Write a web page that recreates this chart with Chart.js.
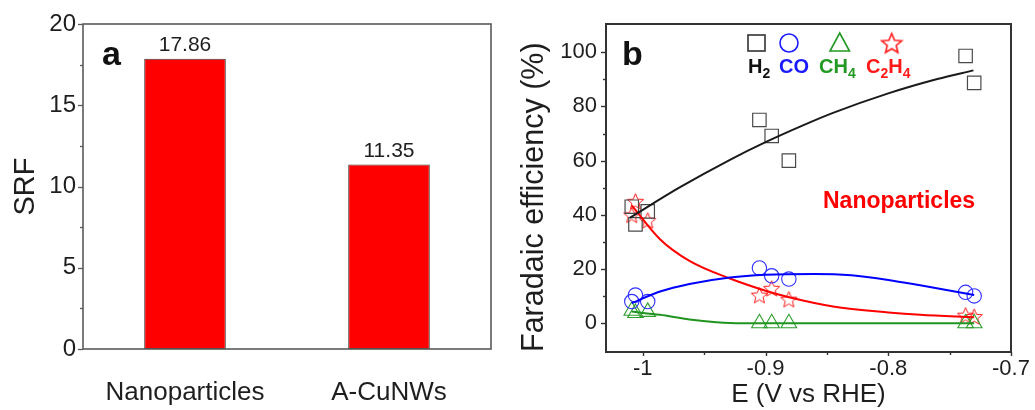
<!DOCTYPE html>
<html>
<head>
<meta charset="utf-8">
<script src="https://cdn.jsdelivr.net/npm/chart.js@4.4.1/dist/chart.umd.min.js"></script>
<style>
  html, body { margin: 0; padding: 0; background: #fff; }
  #wrap { position: relative; width: 1035px; height: 410px; overflow: hidden; }
  #srfChart { position: absolute; left: 0; top: 0; width: 500px; height: 410px; }
  #feChart { position: absolute; left: 500px; top: 0; width: 535px; height: 410px; }
</style>
</head>
<body>
<div id="wrap">
  <canvas id="srfChart" width="500" height="410"></canvas>
  <canvas id="feChart" width="535" height="410"></canvas>
</div>
<script>
/* ── panel a: SRF bars ── */
const SAMPLES = ['Nanoparticles', 'A-CuNWs'];
const SRF_VALUES = [17.86, 11.35];
const SRF_TICKS = [0, 5, 10, 15, 20];
const SRF_MINOR = [2.5, 7.5, 12.5, 17.5];

/* ── panel b: faradaic efficiency vs potential ── */
const POTENTIALS = [-1.009, -1.006, -0.996, -0.905, -0.895, -0.881, -0.737, -0.730];
const FE_H2   = [43, 36.5, 41.3, 75, 69.1, 60, 98.6, 88.7];
const FE_CO   = [8, 10.4, 8, 20.4, 17.5, 16.3, 11.4, 10.1];
const FE_CH4  = [4.6, 3.8, 4.2, 0, 0, 0, 0, 0];
const FE_C2H4 = [40, 45, 38, 10.4, 12.9, 8.9, 3, 2.5];

// fitted guide curves
const H2_FIT_E   = [-1.0106, -0.97, -0.929, -0.9, -0.87, -0.845, -0.8, -0.76, -0.7306];
const H2_FIT     = [38.9, 50.1, 60.3, 66.8, 72.9, 77.6, 84.8, 90.1, 93.3];
const CO_FIT_E   = [-1.009, -0.986, -0.962, -0.929, -0.9, -0.86, -0.83, -0.8, -0.774, -0.73];
const CO_FIT     = [7.4, 11.7, 14.5, 16.9, 17.9, 18.2, 17.7, 16, 14, 10.4];
const CH4_FIT_E  = [-1.009, -0.986, -0.962, -0.94, -0.92, -0.85, -0.73];
const CH4_FIT    = [4.3, 3.1, 1.4, 0.4, 0, 0, 0];
const C2H4_FIT_E = [-1.009, -0.986, -0.962, -0.929, -0.9, -0.88, -0.845, -0.8, -0.774, -0.73];
const C2H4_FIT   = [43.5, 31, 23, 16.5, 12, 9.5, 6.2, 4, 3.1, 2.2];

const E_TICKS = [-1, -0.9, -0.8, -0.7];
const E_MINOR = [-0.95, -0.85, -0.75];
const FE_TICKS = [0, 20, 40, 60, 80, 100];
const FE_MINOR = [10, 30, 50, 70, 90];

const FONT = "'Liberation Sans', Arial, sans-serif";
const INK = '#1e1e1e';

const toXY = (xs, ys) => xs.map((x, i) => ({ x, y: ys[i] }));

function makeStar(outer, color, lw) {
  const size = Math.ceil(outer * 2 + lw * 2 + 2);
  const c = document.createElement('canvas');
  c.width = c.height = size;
  const g = c.getContext('2d');
  const cx = size / 2, cy = size / 2 + outer * 0.1;
  const inner = outer * 0.45;
  g.beginPath();
  for (let i = 0; i < 10; i++) {
    const r = i % 2 ? inner : outer;
    const a = -Math.PI / 2 + i * Math.PI / 5;
    g.lineTo(cx + r * Math.cos(a), cy + r * Math.sin(a));
  }
  g.closePath();
  g.strokeStyle = color;
  g.lineWidth = lw;
  g.stroke();
  return c;
}

// box around the plot + outward major/minor ticks
const frameTicks = {
  id: 'frameTicks',
  afterDraw(chart, args, o) {
    const { ctx, chartArea: a, scales } = chart;
    ctx.save();
    ctx.strokeStyle = o.color;
    ctx.lineWidth = o.width;
    ctx.strokeRect(a.left, a.top, a.right - a.left, a.bottom - a.top);
    ctx.lineWidth = o.tickWidth;
    const tickY = (vals, len) => vals.forEach(v => {
      const p = Math.round(scales.y.getPixelForValue(v)) + 0.5;
      ctx.beginPath(); ctx.moveTo(a.left - len, p); ctx.lineTo(a.left, p); ctx.stroke();
    });
    const tickX = (vals, len) => vals.forEach(v => {
      const p = Math.round(scales.x.getPixelForValue(v)) + 0.5;
      ctx.beginPath(); ctx.moveTo(p, a.bottom); ctx.lineTo(p, a.bottom + len); ctx.stroke();
    });
    tickY(o.yMajor || [], 5);
    tickY(o.yMinor || [], 3);
    tickX(o.xMajor || [], 4);
    tickX(o.xMinor || [], 3);
    ctx.restore();
  }
};

const panelText = {
  id: 'panelText',
  afterDraw(chart, args, o) {
    const ctx = chart.ctx;
    (o.items || []).forEach(t => {
      ctx.save();
      ctx.font = t.font;
      ctx.fillStyle = t.color;
      ctx.textAlign = 'left';
      ctx.textBaseline = 'alphabetic';
      ctx.fillText(t.text, t.x, t.y);
      ctx.restore();
    });
  }
};

const barValues = {
  id: 'barValues',
  afterDatasetsDraw(chart) {
    const ctx = chart.ctx;
    const meta = chart.getDatasetMeta(0);
    ctx.save();
    ctx.font = `21px ${FONT}`;
    ctx.fillStyle = INK;
    ctx.textAlign = 'center';
    ctx.textBaseline = 'alphabetic';
    meta.data.forEach((bar, i) => {
      ctx.fillText(SRF_VALUES[i].toFixed(2), bar.x, bar.y - 7.5);
    });
    ctx.restore();
  }
};

// ── LEFT: SRF bar chart ──
new Chart(document.getElementById('srfChart'), {
  type: 'bar',
  data: {
    labels: SAMPLES,
    datasets: [{
      data: SRF_VALUES,
      backgroundColor: '#ff0000',
      borderColor: '#3a3a3a',
      borderWidth: 1,
      borderSkipped: false,
      barPercentage: 0.4,
      categoryPercentage: 1
    }]
  },
  options: {
    responsive: false,
    animation: false,
    layout: { padding: { top: 24, right: 9, left: 0, bottom: 0 } },
    plugins: {
      legend: { display: false },
      tooltip: { enabled: false },
      frameTicks: { color: '#5a5a5a', width: 1.6, tickWidth: 1.3, yMajor: SRF_TICKS, yMinor: SRF_MINOR },
      panelText: { items: [{ text: 'a', x: 102, y: 65, font: `bold 34px ${FONT}`, color: '#111' }] }
    },
    scales: {
      x: {
        grid: { display: false, drawTicks: false },
        border: { display: false },
        ticks: { color: INK, font: { size: 26, family: FONT }, padding: 28 },
        afterFit: s => { s.height = 61; }
      },
      y: {
        min: 0, max: 20,
        grid: { display: false, drawTicks: false },
        border: { display: false },
        afterBuildTicks: s => { s.ticks = SRF_TICKS.map(v => ({ value: v })); },
        ticks: { color: INK, font: { size: 24, family: FONT }, padding: 7, callback: v => String(v) },
        title: { display: true, text: 'SRF', color: INK, font: { size: 29, family: FONT }, padding: { top: 9, bottom: 0 } },
        afterFit: s => { s.width = 83; }
      }
    }
  },
  plugins: [frameTicks, barValues, panelText]
});

// ── RIGHT: faradaic efficiency ──
const C_H2 = '#4a4a4a', C_CO = '#2f2fff', C_CH4 = '#2e9e2e', C_C2H4 = '#ff1a1a';
const starPoint = makeStar(8.5, C_C2H4, 1);
const starLegend = makeStar(10.5, C_C2H4, 1.6);

const feLegend = {
  id: 'feLegend',
  afterDraw(chart, args, o) {
    const ctx = chart.ctx;
    ctx.save();
    // symbols
    ctx.lineWidth = 1.6;
    ctx.strokeStyle = '#333';
    ctx.strokeRect(248, 35, 17, 16);
    ctx.strokeStyle = '#1a1aff';
    ctx.beginPath(); ctx.arc(289, 43, 9, 0, Math.PI * 2); ctx.stroke();
    ctx.strokeStyle = '#229922';
    ctx.beginPath(); ctx.moveTo(339.7, 33); ctx.lineTo(349.5, 51); ctx.lineTo(330, 51); ctx.closePath(); ctx.stroke();
    ctx.drawImage(starLegend, 391.7 - starLegend.width / 2, 43 - starLegend.height / 2);
    // labels with subscripts
    ctx.textAlign = 'left';
    ctx.textBaseline = 'alphabetic';
    o.labels.forEach(l => {
      let x = l.x;
      ctx.fillStyle = l.color;
      l.parts.forEach(p => {
        const sub = /\d/.test(p);
        ctx.font = sub ? `bold 14px ${FONT}` : `bold 20px ${FONT}`;
        ctx.fillText(p, x, sub ? 78 : 73);
        x += ctx.measureText(p).width;
      });
    });
    ctx.restore();
  }
};

new Chart(document.getElementById('feChart'), {
  type: 'scatter',
  data: {
    datasets: [
      { type: 'line', data: toXY(H2_FIT_E, H2_FIT), borderColor: '#1a1a1a', borderWidth: 2, pointRadius: 0, cubicInterpolationMode: 'monotone', fill: false },
      { type: 'line', data: toXY(CO_FIT_E, CO_FIT), borderColor: '#0000ff', borderWidth: 2, pointRadius: 0, cubicInterpolationMode: 'monotone', fill: false },
      { type: 'line', data: toXY(CH4_FIT_E, CH4_FIT), borderColor: '#1f951f', borderWidth: 2, pointRadius: 0, cubicInterpolationMode: 'monotone', fill: false },
      { type: 'line', data: toXY(C2H4_FIT_E, C2H4_FIT), borderColor: '#ff0000', borderWidth: 2, pointRadius: 0, cubicInterpolationMode: 'monotone', fill: false },
      { label: 'H2', data: toXY(POTENTIALS, FE_H2), pointStyle: 'rect', pointRadius: 9.5, borderColor: C_H2, borderWidth: 1.2, backgroundColor: 'transparent' },
      { label: 'CO', data: toXY(POTENTIALS, FE_CO), pointStyle: 'circle', pointRadius: 7.2, borderColor: C_CO, borderWidth: 1.1, backgroundColor: 'transparent' },
      { label: 'CH4', data: toXY(POTENTIALS, FE_CH4), pointStyle: 'triangle', pointRadius: 9, borderColor: C_CH4, borderWidth: 1.1, backgroundColor: 'transparent' },
      { label: 'C2H4', data: toXY(POTENTIALS, FE_C2H4), pointStyle: starPoint, pointRadius: 9, borderColor: C_C2H4, backgroundColor: 'transparent' }
    ]
  },
  options: {
    responsive: false,
    animation: false,
    layout: { padding: { top: 24, right: 24, left: 0, bottom: 0 } },
    plugins: {
      legend: { display: false },
      tooltip: { enabled: false },
      frameTicks: { color: '#333', width: 2, tickWidth: 1.4, yMajor: FE_TICKS, yMinor: FE_MINOR, xMajor: E_TICKS, xMinor: E_MINOR },
      panelText: { items: [
        { text: 'b', x: 122, y: 65, font: `bold 34px ${FONT}`, color: '#111' },
        { text: 'Nanoparticles', x: 323, y: 208, font: `bold 23px ${FONT}`, color: '#ff0000' }
      ] },
      feLegend: { labels: [
        { x: 248, color: '#111', parts: ['H', '2'] },
        { x: 279, color: '#1a1aff', parts: ['CO'] },
        { x: 319, color: '#229922', parts: ['CH', '4'] },
        { x: 366, color: '#ff1a1a', parts: ['C', '2', 'H', '4'] }
      ] }
    },
    scales: {
      x: {
        type: 'linear', min: -1.03, max: -0.7,
        grid: { display: false, drawTicks: false },
        border: { display: false },
        afterBuildTicks: s => { s.ticks = E_TICKS.map(v => ({ value: v })); },
        ticks: { color: INK, font: { size: 22, family: FONT }, padding: 4, callback: v => String(v), maxRotation: 0 },
        title: { display: true, text: 'E (V vs RHE)', color: INK, font: { size: 26, family: FONT }, padding: { top: 0, bottom: 0 } },
        afterFit: s => { s.height = 58; }
      },
      y: {
        min: -10.6, max: 110.4,
        grid: { display: false, drawTicks: false },
        border: { display: false },
        afterBuildTicks: s => { s.ticks = FE_TICKS.map(v => ({ value: v })); },
        ticks: { color: INK, font: { size: 22, family: FONT }, padding: 9, callback: v => String(v) },
        title: { display: true, text: 'Faradaic efficiency (%)', align: 'start', color: INK, font: { size: 30.5, family: FONT }, padding: { top: 16, bottom: 0 } },
        afterFit: s => { s.width = 106; }
      }
    }
  },
  plugins: [frameTicks, panelText, feLegend]
});
</script>
</body>
</html>
